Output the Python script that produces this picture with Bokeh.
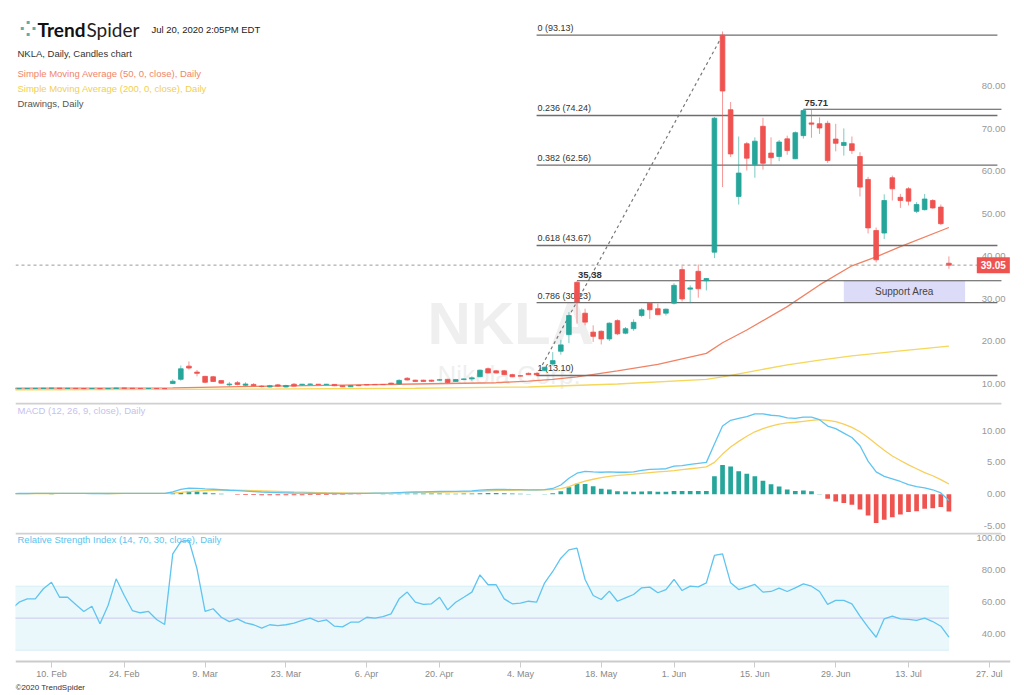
import pandas as pd
from bokeh.plotting import figure
from bokeh.layouts import column
from bokeh.models import (Range1d, LinearAxis, FixedTicker, NumeralTickFormatter,
                          Label, Span, ColumnDataSource)
from bokeh.core.properties import value
from bokeh.embed import file_html
from bokeh.resources import INLINE

FONT = "Liberation Sans"

# ---------------- categories (trading days) ----------------
holidays = ["2020-02-17", "2020-04-10", "2020-05-25", "2020-07-03"]
axis_days = [d.strftime("%Y-%m-%d") for d in pd.bdate_range("2020-02-03", "2020-07-31")
             if d.strftime("%Y-%m-%d") not in holidays]
pos = {d: i for i, d in enumerate(axis_days)}

tick_dates = ["2020-02-10", "2020-02-24", "2020-03-09", "2020-03-23", "2020-04-06", "2020-04-20",
              "2020-05-04", "2020-05-18", "2020-06-01", "2020-06-15", "2020-06-29", "2020-07-13",
              "2020-07-27"]
tick_labels = ["10. Feb", "24. Feb", "9. Mar", "23. Mar", "6. Apr", "20. Apr", "4. May",
               "18. May", "1. Jun", "15. Jun", "29. Jun", "13. Jul", "27. Jul"]

# ---------------- OHLC (NKLA daily) ----------------
open_ = [10.00, 10.02, 10.03, 10.05, 10.06, 10.10, 10.12, 10.07, 10.07, 10.05,
         10.03, 10.05, 10.00, 10.05, 10.15, 10.10, 10.06, 10.05, 10.06, 10.03,
         11.20, 12.20, 15.30, 13.90, 12.90, 12.80, 11.90, 10.90, 11.40, 10.80,
         11.00, 10.60, 10.40, 10.90, 10.40, 11.05, 10.90, 11.00, 11.05, 10.98,
         11.00, 10.70, 10.45, 10.80, 10.95, 11.00, 11.00, 11.30, 11.10, 12.45,
         12.00, 12.00, 12.00, 12.00, 12.20, 11.70, 12.15, 12.30, 12.80, 14.70,
         14.20, 14.20, 13.30, 13.05, 13.60, 13.60, 14.30, 15.80, 18.80, 22.70,
         35.00, 27.75, 23.30, 23.50, 21.70, 26.00, 23.05, 24.10, 27.20, 30.10,
         28.80, 27.75, 30.10, 38.00, 33.40, 37.60, 35.40, 42.10, 93.13, 75.60,
         55.20, 67.60, 62.70, 71.70, 65.40, 64.60, 68.75, 64.06, 69.50, 72.50,
         72.30, 72.40, 68.70, 67.20, 67.60, 64.60, 59.20, 47.20, 46.60, 59.60,
         55.00, 57.00, 51.70, 52.10, 54.25, 52.70, 39.50]
high = [10.05, 10.06, 10.08, 10.10, 10.15, 10.16, 10.13, 10.10, 10.09, 10.07,
        10.07, 10.06, 10.08, 10.20, 10.16, 10.11, 10.08, 10.08, 10.07, 10.05,
        12.20, 15.45, 16.40, 14.40, 13.00, 13.00, 12.00, 11.60, 11.80, 11.50,
        11.30, 10.80, 10.90, 11.10, 10.90, 11.30, 11.10, 11.20, 11.10, 11.10,
        11.05, 10.80, 10.80, 10.90, 11.00, 11.05, 11.10, 11.40, 12.20, 12.70,
        12.10, 12.10, 12.10, 12.30, 12.30, 12.30, 12.35, 12.90, 14.50, 15.00,
        14.40, 14.40, 13.50, 13.20, 13.80, 13.80, 15.10, 18.60, 21.50, 28.00,
        35.38, 28.80, 24.90, 23.70, 25.60, 26.30, 24.50, 26.30, 29.00, 30.30,
        30.00, 28.80, 34.80, 38.80, 34.30, 39.20, 36.00, 73.90, 94.00, 77.40,
        69.30, 68.00, 69.10, 73.70, 69.10, 68.50, 69.50, 70.50, 75.71, 75.60,
        73.80, 73.00, 72.30, 71.20, 69.30, 65.60, 59.80, 47.90, 55.70, 60.10,
        55.80, 57.40, 53.85, 55.80, 54.55, 53.30, 41.10]
low = [9.97, 9.98, 10.00, 10.01, 10.03, 10.06, 10.04, 10.03, 10.02, 10.00,
       10.01, 9.98, 9.99, 10.04, 10.06, 10.03, 10.02, 10.02, 10.00, 9.98,
       11.10, 11.86, 14.50, 12.90, 11.30, 11.60, 11.20, 10.60, 10.80, 10.60,
       10.60, 10.30, 10.30, 10.50, 10.30, 10.55, 10.80, 10.90, 10.90, 10.90,
       10.60, 10.40, 10.40, 10.60, 10.80, 10.90, 10.90, 11.00, 11.00, 11.90,
       11.60, 11.60, 11.60, 11.90, 11.30, 11.60, 12.00, 11.85, 12.70, 13.60,
       13.60, 13.20, 12.70, 12.90, 13.20, 13.10, 14.20, 15.40, 18.00, 20.70,
       25.30, 24.90, 21.00, 20.40, 21.20, 22.60, 22.80, 23.60, 26.80, 26.40,
       27.30, 27.20, 29.80, 30.50, 30.10, 31.40, 33.10, 40.70, 57.40, 64.50,
       53.30, 61.30, 59.60, 61.50, 62.70, 63.50, 65.00, 64.00, 68.80, 69.00,
       69.90, 63.10, 65.80, 64.80, 65.20, 55.20, 46.50, 39.70, 45.20, 54.25,
       52.50, 53.10, 51.30, 51.90, 52.30, 48.50, 38.20]
close = [10.02, 10.03, 10.05, 10.06, 10.10, 10.12, 10.07, 10.07, 10.05, 10.03,
         10.05, 10.00, 10.05, 10.15, 10.10, 10.06, 10.05, 10.06, 10.03, 10.01,
         11.75, 14.68, 14.85, 13.60, 11.50, 11.70, 11.30, 11.10, 11.00, 11.10,
         10.70, 10.50, 10.70, 10.60, 10.75, 10.60, 11.05, 11.10, 10.98, 11.05,
         10.70, 10.45, 10.75, 10.70, 10.90, 10.95, 10.97, 11.10, 11.95, 12.05,
         11.70, 11.70, 11.75, 12.10, 11.45, 12.15, 12.30, 12.55, 14.35, 13.70,
         13.70, 13.30, 12.80, 12.95, 13.30, 13.25, 15.05, 16.60, 20.30, 27.20,
         30.40, 25.65, 22.30, 21.70, 25.40, 22.90, 24.10, 25.60, 28.55, 28.55,
         27.40, 28.70, 34.30, 31.10, 33.70, 33.50, 35.90, 73.60, 80.00, 65.20,
         60.70, 64.20, 68.20, 63.00, 64.30, 68.00, 66.00, 70.20, 75.40, 72.20,
         71.30, 63.65, 67.70, 67.90, 66.00, 57.40, 47.80, 40.30, 54.25, 57.00,
         54.25, 54.10, 53.30, 54.60, 52.50, 48.80, 39.05]

# moving averages (read at selected days)
sma50_dates = ["2020-02-03", "2020-03-03", "2020-03-17", "2020-04-01", "2020-04-15", "2020-04-29",
               "2020-05-05", "2020-05-08", "2020-05-13", "2020-05-20", "2020-05-28", "2020-06-05",
               "2020-06-09", "2020-06-12", "2020-06-19", "2020-06-25", "2020-07-01", "2020-07-07",
               "2020-07-10", "2020-07-20"]
sma50 = [10.15, 10.2, 10.55, 10.85, 11.1, 11.4, 11.8, 12.2, 12.8, 14.2, 15.7, 18.3,
         20.8, 23.8, 29.3, 34.4, 38.9, 41.0, 43.4, 47.9]
sma200_dates = ["2020-02-03", "2020-03-17", "2020-04-15", "2020-05-05", "2020-05-20", "2020-06-05",
                "2020-06-09", "2020-06-15", "2020-06-19", "2020-06-25", "2020-07-01", "2020-07-10",
                "2020-07-20"]
sma200 = [9.75, 9.9, 10.1, 10.4, 11.1, 12.2, 12.8, 14.2, 15.6, 16.7, 17.7, 18.9, 20.0]

# fibonacci drawing
fib_ratios = ["0", "0.236", "0.382", "0.618", "0.786", "1"]
fib_prices = [93.13, 74.24, 62.56, 43.67, 30.23, 13.10]
fib_start, fib_end, fib_peak = "2020-05-06", "2020-07-28", "2020-06-09"
level_dates = ["2020-05-13", "2020-06-23"]
level_prices = [35.38, 75.71]
last_price = 39.05
support_dates = ["2020-06-30", "2020-07-22"]
support_prices = [30.23, 35.38]

# ---------------- MACD (12, 26, 9) ----------------
macd = [0.10, 0.11, 0.11, 0.12, 0.12, 0.13, 0.13, 0.12, 0.12, 0.12,
        0.11, 0.11, 0.11, 0.12, 0.13, 0.13, 0.13, 0.12, 0.12, 0.12,
        0.35, 0.75, 0.95, 0.93, 0.85, 0.78, 0.70, 0.62, 0.55, 0.48,
        0.41, 0.35, 0.30, 0.26, 0.22, 0.19, 0.17, 0.15, 0.13, 0.12,
        0.11, 0.10, 0.11, 0.12, 0.14, 0.16, 0.18, 0.20, 0.26, 0.32,
        0.35, 0.37, 0.40, 0.43, 0.44, 0.46, 0.49, 0.52, 0.63, 0.70,
        0.74, 0.75, 0.73, 0.71, 0.69, 0.67, 0.72, 0.90, 1.45, 2.50,
        3.30, 3.60, 3.50, 3.45, 3.50, 3.45, 3.45, 3.50, 3.75, 3.90,
        3.95, 4.00, 4.40, 4.50, 4.70, 4.85, 5.00, 7.90, 10.70, 11.60,
        11.90, 12.20, 12.60, 12.60, 12.40, 12.30, 12.00, 11.90, 12.10, 12.10,
        11.70, 10.70, 10.30, 9.60, 8.90, 7.60, 5.20, 3.50, 2.80, 2.40,
        2.00, 1.50, 1.20, 1.00, 0.70, 0.20, -1.00]
signal = [0.10, 0.10, 0.10, 0.11, 0.11, 0.11, 0.12, 0.12, 0.12, 0.12,
          0.12, 0.12, 0.11, 0.11, 0.12, 0.12, 0.12, 0.12, 0.12, 0.12,
          0.17, 0.28, 0.41, 0.51, 0.58, 0.62, 0.64, 0.64, 0.62, 0.59,
          0.55, 0.51, 0.47, 0.43, 0.39, 0.35, 0.32, 0.29, 0.26, 0.23,
          0.21, 0.19, 0.17, 0.16, 0.16, 0.16, 0.16, 0.17, 0.19, 0.22,
          0.25, 0.27, 0.30, 0.32, 0.35, 0.37, 0.39, 0.42, 0.46, 0.51,
          0.55, 0.59, 0.62, 0.64, 0.65, 0.66, 0.67, 0.72, 0.87, 1.20,
          1.65, 2.05, 2.35, 2.60, 2.80, 2.95, 3.05, 3.15, 3.28, 3.40,
          3.50, 3.60, 3.70, 3.85, 4.00, 4.15, 4.30, 5.00, 6.30, 7.40,
          8.30, 9.10, 9.80, 10.30, 10.70, 11.00, 11.20, 11.30, 11.45, 11.60,
          11.70, 11.60, 11.40, 11.00, 10.50, 9.80, 8.90, 7.90, 6.90, 6.00,
          5.30, 4.60, 4.00, 3.40, 2.90, 2.30, 1.60]
hist = [0.00, 0.00, 0.00, 0.01, 0.01, 0.02, 0.01, 0.00, 0.00, 0.00,
        -0.01, -0.01, 0.00, 0.01, 0.01, 0.01, 0.01, 0.00, 0.00, 0.00,
        0.18, 0.30, 0.45, 0.42, 0.27, 0.16, 0.06, -0.02, -0.07, -0.11,
        -0.14, -0.16, -0.17, -0.17, -0.17, -0.16, -0.15, -0.14, -0.13, -0.11,
        -0.10, -0.09, -0.06, -0.04, -0.02, 0.00, 0.02, 0.03, 0.07, 0.10,
        0.10, 0.10, 0.10, 0.11, 0.09, 0.09, 0.10, 0.10, 0.17, 0.19,
        0.19, 0.16, 0.11, 0.07, 0.04, 0.01, 0.05, 0.15, 0.47, 1.10,
        1.63, 1.60, 1.26, 0.85, 0.75, 0.47, 0.42, 0.37, 0.42, 0.47,
        0.37, 0.40, 0.52, 0.52, 0.52, 0.52, 0.52, 2.83, 4.60, 4.35,
        3.60, 3.20, 2.83, 2.10, 1.57, 1.20, 0.75, 0.52, 0.58, 0.47,
        0.05, -0.73, -1.15, -1.36, -1.67, -2.40, -3.35, -4.50, -4.00, -3.60,
        -3.20, -2.80, -2.66, -2.30, -2.20, -2.00, -2.70]

# ---------------- RSI (14, 70, 30) ----------------
rsi = [55.5, 60.0, 62.1, 62.1, 68.4, 72.5, 63.1, 63.1, 58.6, 54.2,
       57.5, 46.5, 57.9, 74.6, 64.2, 54.8, 53.4, 54.2, 49.2, 46.1,
       90.2, 97.9, 98.6, 80.9, 54.2, 55.9, 50.6, 47.9, 49.6, 47.1,
       45.9, 43.8, 45.9, 45.4, 45.9, 46.9, 48.6, 50.0, 47.9, 49.0,
       45.0, 44.6, 47.5, 47.5, 50.6, 50.0, 51.0, 52.7, 62.1, 66.3,
       60.0, 58.6, 59.0, 63.1, 55.2, 60.0, 63.1, 66.3, 77.1, 70.9,
       70.9, 62.1, 59.0, 59.4, 60.6, 60.0, 72.1, 79.2, 87.5, 92.7,
       93.8, 74.2, 64.2, 61.7, 66.9, 60.6, 62.7, 64.8, 69.0, 69.4,
       65.9, 67.8, 74.2, 67.3, 70.0, 69.6, 72.1, 89.2, 90.2, 72.1,
       67.9, 69.4, 71.1, 66.3, 66.7, 68.8, 66.7, 69.0, 71.5, 70.0,
       66.7, 58.6, 61.1, 61.1, 59.0, 51.3, 44.4, 38.1, 49.6, 51.3,
       49.6, 49.2, 48.6, 50.0, 47.9, 45.0, 38.1]
rsi_upper, rsi_mid, rsi_lower = 70, 50, 30

price_ticks = [10, 20, 30, 40, 50, 60, 70, 80]
macd_ticks = [-5, 0, 5, 10]
rsi_ticks = [40, 60, 80, 100]

# ---------------- styling / geometry ----------------
UP, DOWN = "#26a69a", "#ef5350"
W = 1016
PX_PER_DAY = 8.085
X0 = 0.55
FRAME_W = W - 15 - 6
X_RANGE = Range1d(X0, X0 + FRAME_W / PX_PER_DAY)
LABEL_X = 123.0          # right end of the value labels
LINE_END = 122.5         # right end of drawn separators / levels
AX_COLOR = "#999999"

n = len(close)
idx = list(range(n))
cols = [UP if c >= o else DOWN for o, c in zip(open_, close)]


def base_fig(h, y0, y1):
    p = figure(width=W, height=h, x_range=X_RANGE, y_range=Range1d(y0, y1),
               output_backend="svg", toolbar_location=None,
               x_axis_location=None, y_axis_location=None,
               min_border_left=15, min_border_right=6, min_border_top=0,
               min_border_bottom=0, outline_line_color=None,
               background_fill_color="white", border_fill_color="white")
    p.xgrid.visible = False
    p.ygrid.visible = False
    return p


def value_axis(p, ticks, fmt, range_name="default"):
    ax = LinearAxis(fixed_location=LABEL_X, ticker=FixedTicker(ticks=ticks),
                    formatter=NumeralTickFormatter(format=fmt), y_range_name=range_name,
                    axis_line_color=None, major_tick_line_color=None, minor_tick_line_color=None,
                    major_tick_out=0, major_tick_in=0, major_label_standoff=0,
                    major_label_text_color=AX_COLOR, major_label_text_font_size="9.5px",
                    major_label_text_font=FONT)
    p.add_layout(ax, "left")


def screen_label(p, x, y, text, color, size="9.5px", style="normal", font=FONT):
    p.add_layout(Label(x=x, y=y, x_units="screen", y_units="screen", text=text,
                       text_color=color, text_font_size=size, text_font_style=style,
                       text_font=font, text_baseline="middle"))


def separator(p, y):
    p.segment(x0=[X0], x1=[LINE_END], y0=[y], y1=[y], line_color="#d0d0d0", line_width=2)


# ================= price panel =================
PH = 402
P_Y0, P_Y1 = 6.75, 101.28
ppu = PH / (P_Y1 - P_Y0)
pp = base_fig(PH, P_Y0, P_Y1)
shift = 5 / ppu
pp.extra_y_ranges = {"labels": Range1d(P_Y0 - shift, P_Y1 - shift)}

# watermark
pp.text(x=[61.8], y=[25.3], text=["NKLA"], text_font=value(FONT), text_font_size="60px",
        text_font_style="bold", text_color="#efefef", text_align="center", text_baseline="middle")
pp.text(x=[61.6], y=[13.1], text=["Nikola Corp."], text_font=value(FONT), text_font_size="26px",
        text_color="#efefef", text_align="center", text_baseline="middle")

# support area
pp.quad(left=[pos[support_dates[0]]], right=[pos[support_dates[1]]],
        bottom=[support_prices[0]], top=[support_prices[1]], fill_color="#dcdcf8", line_color=None)
pp.text(x=[(pos[support_dates[0]] + pos[support_dates[1]]) / 2],
        y=[sum(support_prices) / 2], text=["Support Area"], text_font=value(FONT),
        text_font_size="10px", text_color="#444444", text_align="center", text_baseline="middle")

# moving averages
pp.line([pos[d] for d in sma200_dates], sma200, line_color="#f5d75a", line_width=1.3)
pp.line([pos[d] for d in sma50_dates], sma50, line_color="#f08264", line_width=1.3)

# last price dashed line
pp.add_layout(Span(location=last_price, dimension="width", line_color="#9a9a9a",
                   line_dash="3 3", line_width=1))

# fibonacci
fx0, fx1 = pos[fib_start], pos[fib_end]
pp.segment(x0=[fx0] * len(fib_prices), x1=[fx1] * len(fib_prices), y0=fib_prices, y1=fib_prices,
           line_color="#6e6e6e", line_width=1.4)
pp.text(x=[fx0] * len(fib_prices), y=fib_prices,
        text=[f"{r} ({v:.2f})" for r, v in zip(fib_ratios, fib_prices)],
        text_font=value(FONT), text_font_size="9px", text_color="#333333",
        text_baseline="bottom", x_offset=1, y_offset=-2)
pp.segment(x0=[fx0], y0=[fib_prices[-1]], x1=[pos[fib_peak]], y1=[fib_prices[0]],
           line_color="#777777", line_dash="3 3", line_width=1.2)

# horizontal level drawings
lx = [pos[d] for d in level_dates]
pp.segment(x0=lx, x1=[LINE_END] * len(lx), y0=level_prices, y1=level_prices,
           line_color="#555555", line_width=1.1)
pp.text(x=lx, y=level_prices, text=[f"{v:.2f}" for v in level_prices],
        text_font=value(FONT), text_font_size="9.5px", text_font_style="bold",
        text_color="#333333", text_baseline="bottom", x_offset=1, y_offset=-3)

# candles
src = ColumnDataSource(dict(x=idx, o=open_, h=high, l=low, c=close,
                            top=[max(o, c) for o, c in zip(open_, close)],
                            bot=[min(o, c) for o, c in zip(open_, close)], col=cols))
pp.segment(x0="x", y0="l", x1="x", y1="h", source=src, line_color="col", line_alpha=0.6,
           line_width=1)
pp.vbar(x="x", width=0.58, top="top", bottom="bot", source=src, fill_color="col",
        line_color="col", line_width=0.8)

value_axis(pp, price_ticks, "0.00", "labels")

# current price tag
pp.add_layout(Label(x=119.45, y=last_price, text=f"{last_price:.2f}", text_color="white",
                    text_font=FONT, text_font_size="10px", text_font_style="bold",
                    text_baseline="middle", background_fill_color=DOWN, padding=4))

# header texts
screen_label(pp, 0, PH - 29, "⁘", "#5fae9f", "30px", "normal", "DejaVu Sans")
screen_label(pp, 22, PH - 29, "Trend", "#111111", "19px", "bold", "Lato")
screen_label(pp, 71, PH - 29, "Spider", "#222222", "19px", "normal", "Lato")
screen_label(pp, 136, PH - 29, "Jul 20, 2020 2:05PM EDT", "#222222", "9.5px")
screen_label(pp, 2, PH - 53, "NKLA, Daily, Candles chart", "#333333")
screen_label(pp, 2, PH - 73, "Simple Moving Average (50, 0, close), Daily", "#f0856a")
screen_label(pp, 2, PH - 88, "Simple Moving Average (200, 0, close), Daily", "#f2cf50")
screen_label(pp, 2, PH - 103, "Drawings, Daily", "#555555")

# ================= MACD panel =================
MH = 130
M_Y0, M_Y1 = -6.01, 14.4
pm = base_fig(MH, M_Y0, M_Y1)
separator(pm, M_Y1 - 1.0 / (MH / (M_Y1 - M_Y0)))
pm.vbar(x=idx, width=0.58, top=hist, bottom=0,
        fill_color=[UP if v >= 0 else DOWN for v in hist], line_color=None)
pm.line(idx, signal, line_color="#f7cf5a", line_width=1.3)
pm.line(idx, macd, line_color="#5fc4f0", line_width=1.3)
value_axis(pm, macd_ticks, "0.00")
screen_label(pm, 2, MH - 8, "MACD (12, 26, 9, close), Daily", "#c4c2ee")

# ================= RSI panel =================
RH = 162
R_Y0, R_Y1 = 2.31, 103.56
AXIS_Y = 22.94           # RSI value at the time-axis line
pr = base_fig(RH, R_Y0, R_Y1)
separator(pr, R_Y1 - 1.0 / (RH / (R_Y1 - R_Y0)))
pr.varea(x=[idx[0], idx[-1]], y1=[rsi_lower] * 2, y2=[rsi_upper] * 2, fill_color="#eaf8fb")
pr.line([idx[0], idx[-1]], [rsi_upper] * 2, line_color="#d6eef5", line_width=1)
pr.line([idx[0], idx[-1]], [rsi_lower] * 2, line_color="#d6eef5", line_width=1)
pr.line([idx[0], idx[-1]], [rsi_mid] * 2, line_color="#d2d2f0", line_width=1.2)
pr.line(idx, rsi, line_color="#5fc4f0", line_width=1.3)
value_axis(pr, rsi_ticks, "0.00")
screen_label(pr, 2, RH - 7, "Relative Strength Index (14, 70, 30, close), Daily", "#5cc3ef")

xt = [pos[d] for d in tick_dates]
xax = LinearAxis(fixed_location=AXIS_Y, ticker=FixedTicker(ticks=xt),
                 major_label_overrides={t: s for t, s in zip(xt, tick_labels)},
                 axis_line_color="#cccccc", axis_line_width=2,
                 major_tick_line_color="#cccccc", major_tick_out=6, major_tick_in=0,
                 minor_tick_line_color=None, major_label_standoff=2,
                 major_label_text_color="#888888", major_label_text_font_size="9px",
                 major_label_text_font=FONT)
pr.add_layout(xax, "below")
screen_label(pr, 0, 7, "©2020 TrendSpider", "#333333", "8px")

layout = column(pp, pm, pr, spacing=0)
open("out.html", "w").write(file_html(layout, INLINE, title="NKLA"))
